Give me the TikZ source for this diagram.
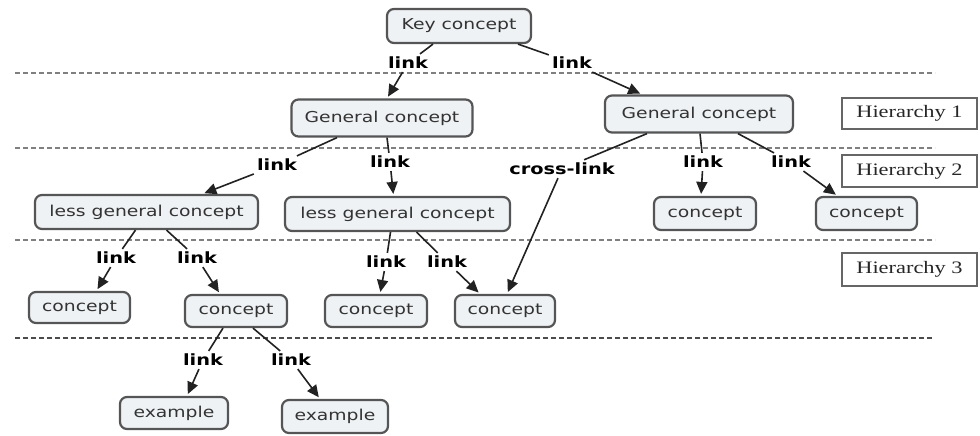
\documentclass[tikz,border=0pt]{standalone}
\usepackage{fontspec}
\usetikzlibrary{arrows.meta}
\newfontfamily\cfont[FakeStretch=1.25]{DejaVu Sans}
\newfontfamily\hfont[FakeStretch=1.28]{Liberation Serif}
\definecolor{nodefill}{HTML}{EEF2F4}
\definecolor{bordergray}{HTML}{555555}
\definecolor{textgray}{HTML}{333333}
\definecolor{linegray}{HTML}{222222}
\definecolor{sepgray}{HTML}{808080}
\definecolor{hgray}{HTML}{666666}
\tikzset{
 cbox/.style={draw=bordergray, line width=2.2pt, fill=nodefill, rounded corners=7pt, text=textgray, font=\cfont\fontsize{15}{18}\selectfont, inner sep=0pt, minimum height=33pt},
 lbl/.style={font=\cfont\bfseries\fontsize{15.5}{18}\selectfont, inner sep=3pt, text=black},
 hbox/.style={draw=hgray, line width=1.4pt, font=\hfont\fontsize{17.5}{20}\selectfont, minimum width=135pt, minimum height=31pt, inner sep=0pt, text=black!85},
 conn/.style={draw=linegray, line width=1.6pt},
 arr/.style={conn, -{Triangle[length=12pt,width=11pt]}, shorten >=2pt},
 sepline/.style={draw=sepgray, dash pattern=on 5pt off 3pt, line width=1.6pt},
}
\begin{document}
\begin{tikzpicture}[x=1pt, y=-1pt]
\useasboundingbox (0,0) rectangle (980,436);
% separators
\coordinate (s1a) at (15,73);  \coordinate (s1b) at (935,73);
\coordinate (s2a) at (15,148); \coordinate (s2b) at (935,148);
\coordinate (s3a) at (15,240); \coordinate (s3b) at (935,240);
\coordinate (s4a) at (15,338); \coordinate (s4b) at (932,338);
\draw[sepline] (s1a) -- (s1b);
\draw[sepline] (s2a) -- (s2b);
\draw[sepline] (s3a) -- (s3b);
\draw[sepline, draw=black!70, line width=2pt] (s4a) -- (s4b);
% concept nodes
\node[cbox, minimum width=144pt, minimum height=34pt] (key) at (459,26) {Key concept};
\node[cbox, minimum width=181pt, minimum height=37pt] (gl) at (382,118) {General concept};
\node[cbox, minimum width=188pt, minimum height=37pt] (gr) at (699,114) {General concept};
\node[cbox, minimum width=223pt, minimum height=34pt] (ll) at (146.5,212) {less general concept};
\node[cbox, minimum width=225pt, minimum height=34pt] (lm) at (397.5,214) {less general concept};
\node[cbox, minimum width=102pt] (r1) at (705,213.5) {concept};
\node[cbox, minimum width=101pt] (r2) at (866.5,213.5) {concept};
\node[cbox, minimum width=101pt, minimum height=31pt] (c1) at (79.5,307.5) {concept};
\node[cbox, minimum width=102pt, minimum height=32pt] (c2) at (236,311) {concept};
\node[cbox, minimum width=102pt, minimum height=32pt] (c3) at (376,311) {concept};
\node[cbox, minimum width=100pt, minimum height=32pt] (c4) at (505,311) {concept};
\node[cbox, minimum width=108pt, minimum height=32pt] (e1) at (174,413) {example};
\node[cbox, minimum width=106pt, minimum height=33pt] (e2) at (335,416.5) {example};
% hierarchy boxes
\node[hbox] (h1) at (909.5,113.5) {Hierarchy 1};
\node[hbox, minimum height=32pt] (h2) at (909.5,171) {Hierarchy 2};
\node[hbox, minimum height=33pt] (h3) at (909.5,269.5) {Hierarchy 3};
% link labels
\node[lbl] (l1) at (408,63) {link};
\node[lbl] (l2) at (572,63) {link};
\node[lbl] (l3) at (277,165) {link};
\node[lbl] (l4) at (390,162) {link};
\node[lbl] (l5) at (562,169) {cross-link};
\node[lbl] (l6) at (703,162) {link};
\node[lbl] (l7) at (791,162) {link};
\node[lbl] (l8) at (116,258) {link};
\node[lbl] (l9) at (197,258) {link};
\node[lbl] (l10) at (386,262) {link};
\node[lbl] (l11) at (447,262) {link};
\node[lbl] (l12) at (203,360) {link};
\node[lbl] (l13) at (291,360) {link};
% connectors
\draw[conn] ([xshift=-26pt]key.south) -- (l1);
\draw[arr] (l1) -- ([xshift=5pt]gl.north);
\draw[conn] ([xshift=59pt]key.south) -- (l2);
\draw[arr] (l2) -- ([xshift=-57pt]gr.north);
\draw[conn] ([xshift=-45pt]gl.south) -- (l3);
\draw[arr] (l3) -- ([xshift=56pt]ll.north);
\draw[conn] ([xshift=5pt]gl.south) -- (l4);
\draw[arr] (l4) -- ([xshift=-4pt]lm.north);
\draw[conn] ([xshift=-52pt]gr.south) -- (l5);
\draw[arr] (l5) -- ([xshift=2pt]c4.north);
\draw[conn] ([xshift=1pt]gr.south) -- (l6);
\draw[arr] (l6) -- ([xshift=-4pt]r1.north);
\draw[conn] ([xshift=39pt]gr.south) -- (l7);
\draw[arr] (l7) -- ([xshift=-29pt]r2.north);
\draw[conn] ([xshift=-11pt]ll.south) -- (l8);
\draw[arr] (l8) -- ([xshift=17pt]c1.north);
\draw[conn] ([xshift=20pt]ll.south) -- (l9);
\draw[arr] (l9) -- ([xshift=-16pt]c2.north);
\draw[conn] ([xshift=-7pt]lm.south) -- (l10);
\draw[arr] (l10) -- ([xshift=4pt]c3.north);
\draw[conn] ([xshift=19pt]lm.south) -- (l11);
\draw[arr] (l11) -- ([xshift=-25pt]c4.north);
\draw[conn] ([xshift=-13pt]c2.south) -- (l12);
\draw[arr] (l12) -- ([xshift=13pt]e1.north);
\draw[conn] ([xshift=17pt]c2.south) -- (l13);
\draw[arr] (l13) -- ([xshift=-15pt]e2.north);
\end{tikzpicture}
\end{document}
